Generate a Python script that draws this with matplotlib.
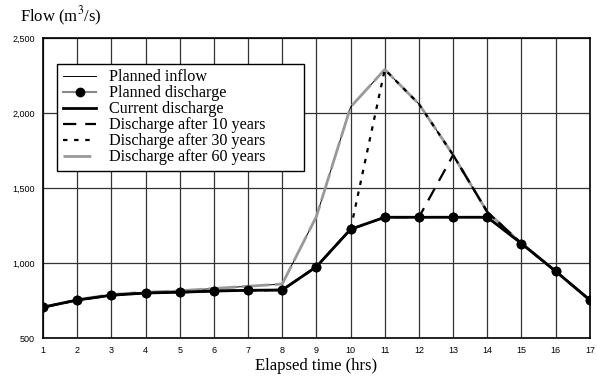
import matplotlib
matplotlib.use("Agg")
import matplotlib.pyplot as plt

plt.rcParams["mathtext.fontset"] = "stix"

hours = list(range(1, 18))
inflow = [705, 755, 790, 805, 815, 830, 845, 860, 1310, 2040, 2290, 2060, 1720, 1340, 1130, 945, 755]
planned = [705, 753, 785, 800, 805, 813, 818, 820, 975, 1225, 1305, 1305, 1305, 1305, 1130, 945, 753]
current = planned
after10 = [705, 753, 785, 800, 805, 813, 818, 820, 975, 1225, 1305, 1305, 1720, 1340, 1130, 945, 753]
after30 = [705, 753, 785, 800, 805, 813, 818, 820, 975, 1225, 2290, 2060, 1720, 1340, 1130, 945, 753]
after60 = inflow

fig = plt.figure(figsize=(5.97, 3.8), dpi=100)
ax = fig.add_axes([0.072, 0.1105, 0.916, 0.7895])

serif = "Liberation Serif"
sans = "Liberation Sans"

ax.plot(hours, inflow, color="black", lw=0.7, label="Planned inflow", zorder=3)
ax.plot(hours, after60, color="#999999", lw=2.0, dashes=(10, 2), label="Discharge after 60 years", zorder=3.5)
ax.plot(hours, after30, color="black", lw=1.6, dashes=(2, 3), label="Discharge after 30 years", zorder=4)
ax.plot(hours, after10, color="black", lw=1.6, dashes=(6, 4), label="Discharge after 10 years", zorder=4)
ax.plot(hours, planned, color="#888888", lw=1.5, marker="o", ms=6,
        mfc="black", mec="black", label="Planned discharge", zorder=4.5)
ax.plot(hours, current, color="black", lw=2, label="Current discharge", zorder=5)
ax.plot(hours, planned, ls="none", marker="o", ms=6, mfc="black", mec="black", zorder=6)

ax.set_xlim(1, 17)
ax.set_ylim(500, 2500)
ax.set_xticks(hours)
ax.set_yticks([500, 1000, 1500, 2000, 2500])
ax.set_yticklabels(["500", "1,000", "1,500", "2,000", "2,500"])
ax.grid(True, color="#333333", lw=0.9)
ax.tick_params(length=0, labelsize=6.5, pad=6)
for lab in ax.get_xticklabels() + ax.get_yticklabels():
    lab.set_fontfamily(sans)
for s in ax.spines.values():
    s.set_linewidth(1.2)

ax.set_xlabel("Elapsed time (hrs)", fontfamily=serif, fontsize=12, labelpad=2)
fig.text(0.033, 0.927, "Flow (m$^3$/s)", fontfamily=serif, fontsize=12, ha="left", va="bottom")

h, l = ax.get_legend_handles_labels()
order = ["Planned inflow", "Planned discharge", "Current discharge",
         "Discharge after 10 years", "Discharge after 30 years", "Discharge after 60 years"]
hd = dict(zip(l, h))
leg = ax.legend([hd[k] for k in order], order, loc="upper left",
                bbox_to_anchor=(0.0256, 0.915, 0.4516, 0), mode="expand",
                frameon=True, fancybox=False,
                edgecolor="black", framealpha=1, borderpad=0.35, labelspacing=0.0,
                handlelength=2.1, handletextpad=0.8, borderaxespad=0,
                prop={"family": serif, "size": 11.6})
leg.get_frame().set_linewidth(1.0)
leg.set_zorder(10)

fig.savefig("out.png", dpi=100)
